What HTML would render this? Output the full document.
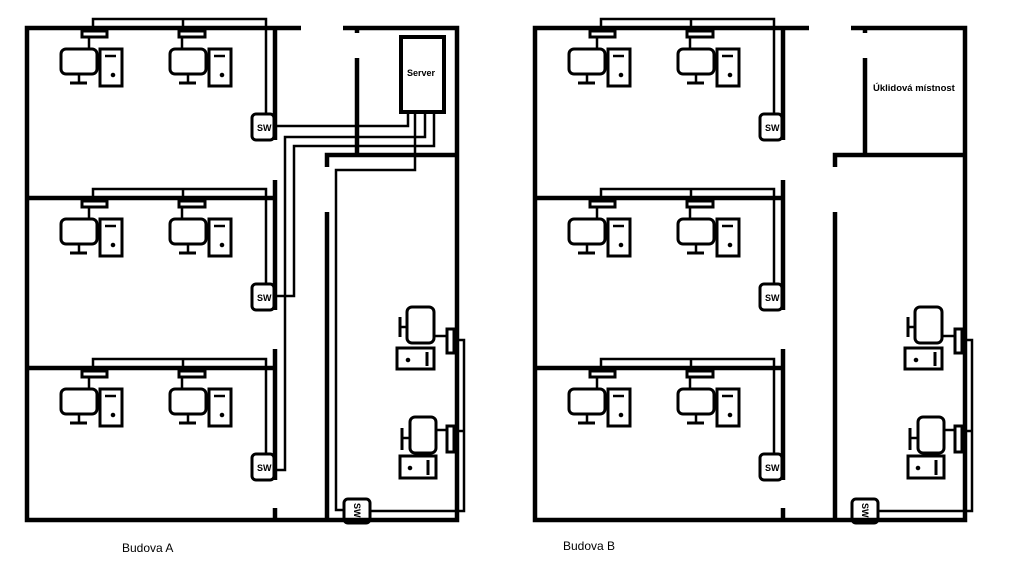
<!DOCTYPE html>
<html><head><meta charset="utf-8"><style>
html,body{margin:0;padding:0;background:#fff;width:1012px;height:562px;overflow:hidden}
svg{display:block}
text{font-family:"Liberation Sans",sans-serif;fill:#000}
</style></head><body>
<svg width="1012" height="562" viewBox="0 0 1012 562" xmlns="http://www.w3.org/2000/svg">
<defs>
<g id="room" fill="none" stroke="#000">
  <polyline points="93,31 93,19 266,19 266,114" stroke-width="2.5"/>
  <line x1="183" y1="19" x2="183" y2="31" stroke-width="2.5"/>
  <rect x="82" y="31" width="25" height="6" stroke-width="3"/>
  <rect x="179" y="31" width="26" height="6" stroke-width="3"/>
  <line x1="89" y1="37" x2="89" y2="49" stroke-width="2.5"/>
  <line x1="182" y1="37" x2="182" y2="49" stroke-width="2.5"/>
  <rect x="61" y="49" width="36" height="25" rx="5" stroke-width="3"/>
  <line x1="79" y1="74" x2="79" y2="83" stroke-width="2.5"/>
  <line x1="70" y1="83" x2="87" y2="83" stroke-width="3"/>
  <rect x="100" y="49" width="22" height="37" stroke-width="3"/>
  <line x1="105" y1="56" x2="116" y2="56" stroke-width="2.5"/>
  <circle cx="113" cy="75" r="1.8" fill="#000"/>
  <rect x="170" y="49" width="36" height="25" rx="5" stroke-width="3"/>
  <line x1="188" y1="74" x2="188" y2="83" stroke-width="2.5"/>
  <line x1="179" y1="83" x2="196" y2="83" stroke-width="3"/>
  <rect x="209" y="49" width="22" height="37" stroke-width="3"/>
  <line x1="214" y1="56" x2="225" y2="56" stroke-width="2.5"/>
  <circle cx="222" cy="75" r="1.8" fill="#000"/>
  <rect x="252" y="114" width="22" height="26" rx="4" stroke-width="3" fill="#fff"/>
</g>
<g id="right" fill="none" stroke="#000">
  <polyline points="370,511 464,511 464,340 455,340" stroke-width="2.5"/>
  <line x1="464" y1="431" x2="455" y2="431" stroke-width="2.5"/>
  <rect x="447" y="329" width="7" height="24" stroke-width="3"/>
  <rect x="447" y="426" width="7" height="26" stroke-width="3"/>
  <line x1="434" y1="336" x2="447" y2="336" stroke-width="2.5"/>
  <line x1="436" y1="430" x2="447" y2="430" stroke-width="2.5"/>
  <rect x="407" y="307" width="27" height="36" rx="5" stroke-width="3"/>
  <line x1="400" y1="327" x2="407" y2="327" stroke-width="2.5"/>
  <line x1="400" y1="317" x2="400" y2="337" stroke-width="3"/>
  <rect x="397" y="348" width="37" height="21" stroke-width="3"/>
  <circle cx="408" cy="360" r="1.8" fill="#000"/>
  <line x1="427" y1="352" x2="427" y2="366" stroke-width="3"/>
  <rect x="410" y="417" width="26" height="36" rx="5" stroke-width="3"/>
  <line x1="402" y1="438" x2="410" y2="438" stroke-width="2.5"/>
  <line x1="402" y1="428" x2="402" y2="450" stroke-width="3"/>
  <rect x="400" y="456" width="36" height="22" stroke-width="3"/>
  <circle cx="410" cy="468" r="1.8" fill="#000"/>
  <line x1="428" y1="460" x2="428" y2="475" stroke-width="3"/>
  <rect x="344" y="499" width="26" height="24" rx="4" stroke-width="3" fill="#fff"/>
</g>
<g id="walls" stroke="#000" stroke-width="4.5" fill="none">
  <polyline points="301,28 27,28 27,520 457,520 457,28 343,28"/>
  <line x1="357" y1="26" x2="357" y2="33"/>
  <line x1="357" y1="58" x2="357" y2="155"/>
  <polyline points="327,167 327,155 457,155"/>
  <line x1="327" y1="212" x2="327" y2="520"/>
  <line x1="27" y1="198" x2="275" y2="198"/>
  <line x1="27" y1="368" x2="275" y2="368"/>
  <line x1="275" y1="28" x2="275" y2="140"/>
  <line x1="275" y1="180" x2="275" y2="310"/>
  <line x1="275" y1="349" x2="275" y2="480"/>
  <line x1="275" y1="508" x2="275" y2="520"/>
</g>
</defs>

<use href="#room"/>
<use href="#room" transform="translate(0,170)"/>
<use href="#room" transform="translate(0,340)"/>
<use href="#right"/>

<g fill="none" stroke="#000" stroke-width="2.5">
  <polyline points="408,113 408,126 274,126"/>
  <polyline points="425,113 425,137 285,137 285,470 274,470"/>
  <polyline points="434,113 434,146 294,146 294,296 274,296"/>
  <polyline points="415,113 415,170 336,170 336,510 344,510"/>
</g>
<use href="#walls"/>
<rect x="401" y="37" width="43" height="75" fill="#fff" stroke="#000" stroke-width="4"/>
<text x="421" y="76" font-size="9" font-weight="bold" text-anchor="middle">Server</text>

<g transform="translate(508,0)">
<use href="#room"/>
<use href="#room" transform="translate(0,170)"/>
<use href="#room" transform="translate(0,340)"/>
<use href="#right"/>
<use href="#walls"/>
</g>

<g font-size="9" font-weight="bold">
<text x="257" y="131">SW</text>
<text x="257" y="301">SW</text>
<text x="257" y="471">SW</text>
<text x="765" y="131">SW</text>
<text x="765" y="301">SW</text>
<text x="765" y="471">SW</text>
<text transform="translate(354,503) rotate(90)">SW</text>
<text transform="translate(862,503) rotate(90)">SW</text>
</g>
<text x="873" y="91" font-size="9.5" font-weight="bold">Úklidová místnost</text>
<text x="122" y="552" font-size="12">Budova A</text>
<text x="563" y="550" font-size="12">Budova B</text>
</svg>
</body></html>
